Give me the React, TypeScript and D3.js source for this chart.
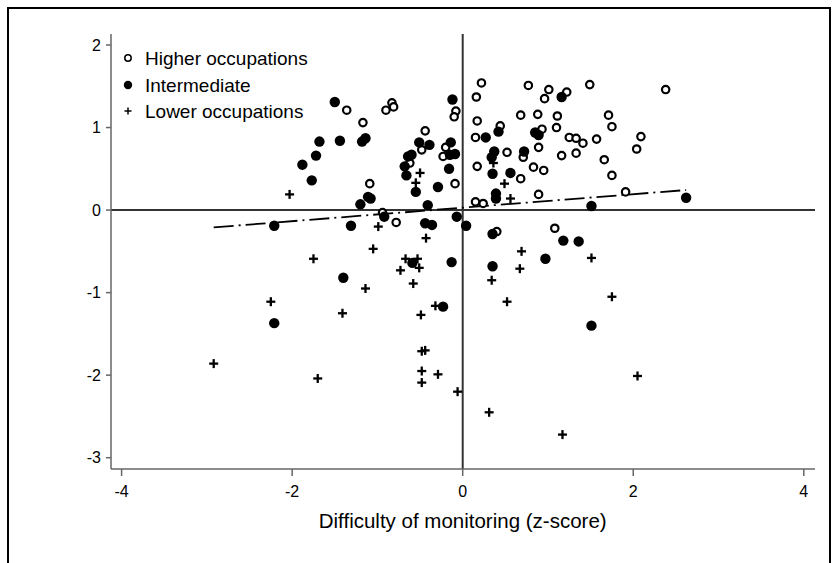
import React from "react";
import * as d3 from "d3";

const higherX = [-1.36,-1.17,-0.90,-0.83,-0.81,-0.44,-0.48,-0.62,-1.09,-0.08,-0.10,-0.20,-0.23,-0.09,-0.94,-0.78,0.22,0.16,0.17,0.15,0.44,0.17,0.52,0.71,0.68,0.89,0.15,0.24,0.68,0.77,0.88,0.93,0.89,0.83,0.95,1.01,0.96,1.22,1.11,1.10,1.25,1.33,1.41,1.57,1.16,1.33,1.49,2.38,1.71,1.75,2.09,2.04,1.66,1.75,1.91,0.40,1.08];
const higherY = [1.21,1.06,1.21,1.30,1.25,0.96,0.73,0.57,0.32,1.20,1.13,0.76,0.65,0.32,-0.03,-0.15,1.54,1.37,1.08,0.88,1.02,0.53,0.70,0.64,0.38,0.19,0.10,0.08,1.15,1.51,1.16,0.98,0.76,0.52,0.48,1.46,1.35,1.43,1.14,1.00,0.88,0.87,0.81,0.86,0.66,0.69,1.52,1.46,1.15,1.01,0.89,0.74,0.61,0.42,0.22,-0.26,-0.22];

const interX = [-1.50,-1.68,-1.44,-1.18,-1.14,-1.72,-1.88,-1.77,-1.20,-1.08,-1.11,-0.51,-0.39,-0.64,-0.60,-0.68,-0.66,-0.55,-0.29,-0.41,-0.12,-0.14,-0.15,-0.09,-0.16,-0.07,-0.92,0.27,0.42,0.37,0.34,0.35,0.56,0.72,0.39,0.39,0.85,0.89,1.16,1.51,2.62,-2.21,-1.31,-1.40,-2.21,-0.44,-0.36,0.04,-0.59,-0.13,-0.23,0.35,1.18,1.36,0.97,0.35,1.51];
const interY = [1.31,0.83,0.84,0.83,0.87,0.66,0.55,0.36,0.07,0.14,0.16,0.82,0.79,0.65,0.67,0.53,0.42,0.22,0.28,0.06,1.34,0.82,0.67,0.68,0.50,-0.08,-0.08,0.88,0.95,0.71,0.64,0.44,0.45,0.71,0.20,0.14,0.94,0.91,1.37,0.05,0.15,-0.19,-0.19,-0.82,-1.37,-0.16,-0.18,-0.19,-0.64,-0.63,-1.17,-0.29,-0.37,-0.38,-0.59,-0.68,-1.40];

const lowerX = [-2.03,-0.50,-0.55,0.36,0.49,0.56,-0.99,-0.43,-1.05,-0.67,-0.53,-0.51,-0.73,-1.14,-0.58,-0.32,-0.49,-1.75,-2.25,-1.41,-2.92,-1.70,-0.48,-0.44,-0.48,-0.29,-0.48,-0.06,0.31,1.17,2.05,0.69,1.51,0.67,0.34,0.52,1.75];
const lowerY = [0.19,0.45,0.33,0.57,0.32,0.14,-0.20,-0.34,-0.47,-0.59,-0.59,-0.70,-0.73,-0.95,-0.89,-1.16,-1.27,-0.59,-1.11,-1.25,-1.86,-2.04,-1.71,-1.70,-1.95,-1.99,-2.09,-2.20,-2.45,-2.72,-2.01,-0.50,-0.58,-0.71,-0.85,-1.11,-1.05];

const xTicks = [-4, -2, 0, 2, 4];
const yTicks = [2, 1, 0, -1, -2, -3];
const legendLabels = ["Higher occupations", "Intermediate", "Lower occupations"];
const xTitle = "Difficulty of monitoring (z-score)";
const fitIntercept = 0.029;
const fitSlope = 0.0817;

const FONT = "'Liberation Sans', Arial, sans-serif";

export default function App() {
  const x = d3.scaleLinear().domain([-4, 4]).range([121.6, 803.8]);
  const y = d3.scaleLinear().domain([-3, 2]).range([457.7, 45]);
  const axisX = 111;
  const axisY = 469;
  const top = 34;
  const right = 815;

  const allX = [...higherX, ...interX, ...lowerX];
  const [xmin, xmax] = d3.extent(allX) as [number, number];
  const fitLine = d3.line<number>().x((d) => x(d)).y((d) => y(fitIntercept + fitSlope * d));

  const plus = (cx: number, cy: number, h: number, sw: number, key: string) => (
    <g key={key} stroke="#000" strokeWidth={sw}>
      <line x1={cx - h} x2={cx + h} y1={cy} y2={cy} />
      <line x1={cx} x2={cx} y1={cy - h} y2={cy + h} />
    </g>
  );

  return (
    <svg width={832} height={563} style={{ position: "absolute", left: 0, top: 0, background: "#fff" }} fontFamily={FONT}>
      <rect x={0} y={0} width={832} height={563} fill="#fff" />
      <rect x={8} y={8} width={822} height={580} fill="none" stroke="#000" strokeWidth={2} />

      {/* reference lines */}
      <line x1={axisX} x2={right} y1={y(0)} y2={y(0)} stroke="#333" strokeWidth={2} />
      <line x1={x(0)} x2={x(0)} y1={top} y2={axisY} stroke="#333" strokeWidth={2} />

      {/* axes */}
      <line x1={axisX} x2={axisX} y1={top} y2={axisY} stroke="#666" strokeWidth={1.5} />
      <line x1={axisX} x2={right} y1={axisY} y2={axisY} stroke="#666" strokeWidth={1.5} />
      {yTicks.map((t) => (
        <g key={"yt" + t}>
          <line x1={axisX - 5} x2={axisX} y1={y(t)} y2={y(t)} stroke="#666" strokeWidth={1.5} />
          <text x={axisX - 10} y={y(t) + 5.5} textAnchor="end" fontSize={16} fill="#000">{t}</text>
        </g>
      ))}
      {xTicks.map((t) => (
        <g key={"xt" + t}>
          <line x1={x(t)} x2={x(t)} y1={axisY} y2={axisY + 7} stroke="#666" strokeWidth={1.5} />
          <text x={x(t)} y={497} textAnchor="middle" fontSize={16} fill="#000">{t}</text>
        </g>
      ))}
      <text x={x(0)} y={528} textAnchor="middle" fontSize={20.5} fill="#000">{xTitle}</text>

      {/* fitted line */}
      <path d={fitLine([xmin, xmax]) || ""} fill="none" stroke="#000" strokeWidth={1.8} strokeDasharray="20 5 2 5" />

      {/* points */}
      {higherX.map((v, i) => (
        <circle key={"h" + i} cx={x(v)} cy={y(higherY[i])} r={3.7} fill="#fff" stroke="#000" strokeWidth={2.2} />
      ))}
      {interX.map((v, i) => (
        <circle key={"m" + i} cx={x(v)} cy={y(interY[i])} r={5.2} fill="#000" />
      ))}
      {lowerX.map((v, i) => plus(x(v), y(lowerY[i]), 4.5, 2.3, "l" + i))}

      {/* legend */}
      <circle cx={128} cy={58} r={3.2} fill="#fff" stroke="#000" strokeWidth={1.5} />
      <circle cx={128} cy={85} r={4.2} fill="#000" />
      {plus(128, 111, 3.5, 1.5, "lg")}
      {legendLabels.map((l, i) => (
        <text key={l} x={145} y={[58, 85, 111][i] + 6.5} fontSize={19} fill="#000">{l}</text>
      ))}
    </svg>
  );
}
